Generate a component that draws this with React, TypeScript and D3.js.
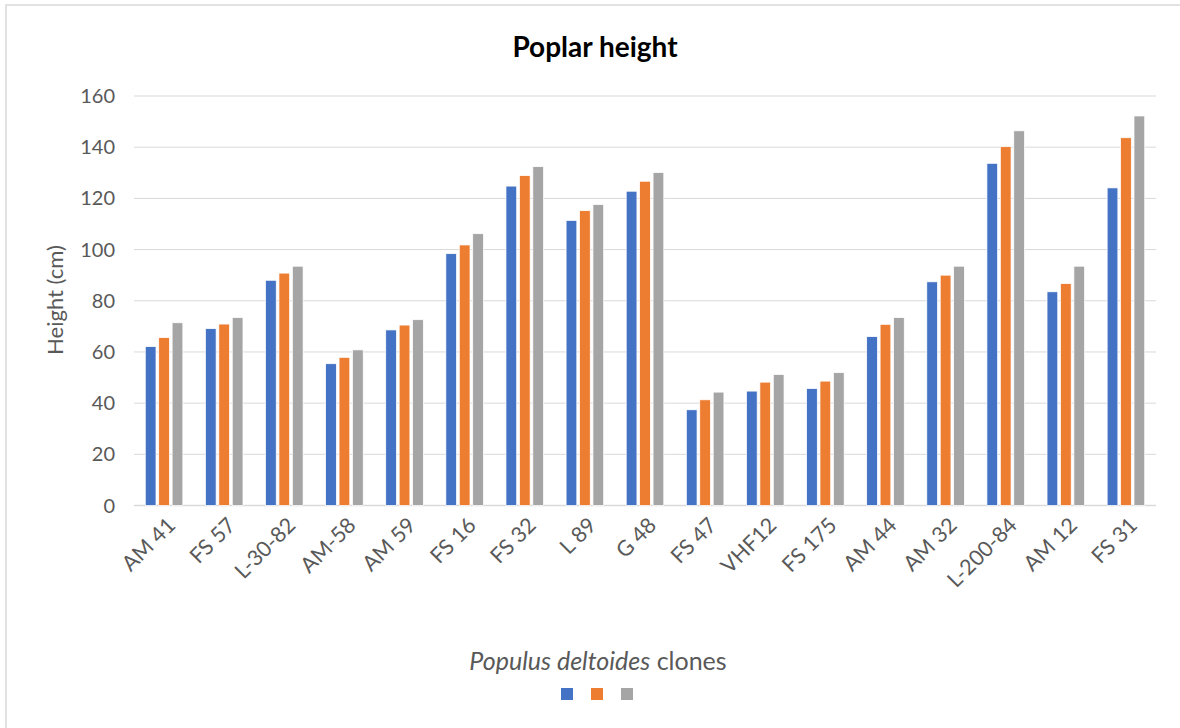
import React from "react";
import * as d3 from "d3";

const categories = ["AM 41", "FS 57", "L-30-82", "AM-58", "AM 59", "FS 16", "FS 32", "L 89", "G 48", "FS 47", "VHF12", "FS 175", "AM 44", "AM 32", "L-200-84", "AM 12", "FS 31"];
const series1 = [62.1, 69.1, 88.0, 55.4, 68.6, 98.4, 124.8, 111.4, 122.8, 37.4, 44.7, 45.7, 66.0, 87.4, 133.7, 83.5, 124.1];
const series2 = [65.6, 70.9, 90.8, 57.9, 70.5, 101.8, 128.9, 115.2, 126.7, 41.3, 48.2, 48.6, 70.8, 90.0, 140.2, 86.7, 143.7];
const series3 = [71.4, 73.4, 93.5, 60.8, 72.6, 106.2, 132.4, 117.6, 130.1, 44.3, 51.2, 51.9, 73.4, 93.5, 146.4, 93.5, 152.2];
const yTicks = [0, 20, 40, 60, 80, 100, 120, 140, 160];
const colors = ["#4472C4", "#ED7D31", "#A5A5A5"];

const W = 1180;
const H = 728;
const left = 134;
const right = 1156;
const top = 96;
const bottom = 505.5;
const FONT = "Lato, 'Open Sans', sans-serif";

export default function App() {
  const x = d3.scaleBand<string>().domain(categories).range([left, right]).padding(0);
  const y = d3.scaleLinear().domain([0, 160]).range([bottom, top]);
  const groupW = 37.6;
  const inner = d3.scaleBand<number>().domain([0, 1, 2]).range([-groupW / 2, groupW / 2]).paddingInner(0.2);
  const allSeries = [series1, series2, series3];

  return (
    <div style={{ position: "fixed", left: 0, top: 0 }}>
      <svg width={W} height={H} style={{ display: "block", background: "#fff" }}>
        <rect x={6} y={5} width={W + 10} height={H + 10} fill="#fff" stroke="#D9D9D9" strokeWidth={1.5} />
        <text x={595} y={57} textAnchor="middle" fontFamily={FONT} fontWeight="bold" fontSize={28} fill="#000">Poplar height</text>
        {yTicks.map((t) => (
          <g key={t}>
            <line x1={left} x2={right} y1={y(t)} y2={y(t)} stroke="#D9D9D9" strokeWidth={t === 0 ? 1.5 : 1} />
            <text x={115} y={y(t)} dy="0.35em" textAnchor="end" fontFamily={FONT} fontSize={20} fill="#595959">{t}</text>
          </g>
        ))}
        {allSeries.map((s, si) => (
          <g key={si}>
            {s.map((v, i) => {
              const cx = (x(categories[i]) as number) + x.bandwidth() / 2;
              return (
                <rect
                  key={i}
                  x={cx + (inner(si) as number)}
                  y={y(v)}
                  width={inner.bandwidth()}
                  height={y(0) - y(v)}
                  fill={colors[si]}
                  stroke="#fff"
                  strokeWidth={0.75}
                />
              );
            })}
          </g>
        ))}
        {categories.map((c) => {
          const cx = (x(c) as number) + x.bandwidth() / 2;
          return (
            <text
              key={c}
              transform={`translate(${cx + 2},${516}) rotate(-45)`}
              textAnchor="end"
              dy="0.7em"
              fontFamily={FONT}
              fontSize={21.5}
              fill="#595959"
            >
              {c}
            </text>
          );
        })}
        <text transform={`translate(${63},${300}) rotate(-90)`} textAnchor="middle" fontFamily={FONT} fontSize={22} fill="#595959">Height (cm)</text>
        <text x={598} y={670} textAnchor="middle" fontFamily={FONT} fontSize={25} fill="#595959">
          <tspan fontStyle="italic">Populus deltoides</tspan>
          <tspan> clones</tspan>
        </text>
        {colors.map((c, i) => (
          <rect key={c} x={561 + i * 30} y={688} width={12} height={12} fill={c} />
        ))}
      </svg>
    </div>
  );
}
